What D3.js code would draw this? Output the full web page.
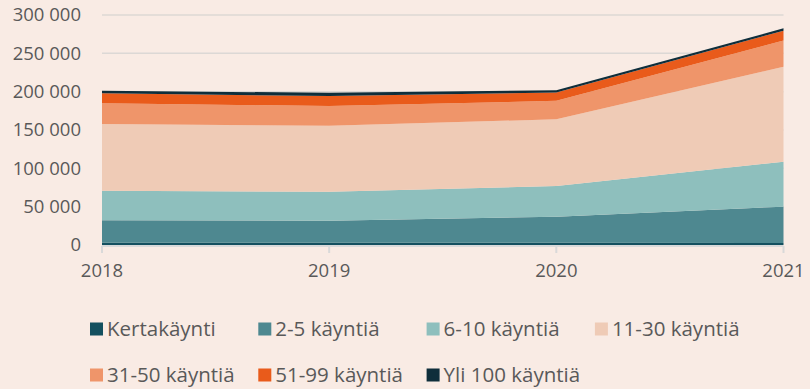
<!DOCTYPE html>
<html>
<head>
<meta charset="utf-8">
<script src="https://cdn.jsdelivr.net/npm/d3@7"></script>
<style>
  html, body { margin: 0; padding: 0; background: #f9ebe4; }
  svg { display: block; }
  text { font-family: "Open Sans", sans-serif; fill: #595959; }
</style>
</head>
<body>
<svg id="chart" width="810" height="389"></svg>
<script>
// Käyntimäärät vuosittain, luokiteltuna käyntien lukumäärän mukaan
const years = [2018, 2019, 2020, 2021];
const seriesNames = ["Kertakäynti", "2-5 käyntiä", "6-10 käyntiä", "11-30 käyntiä",
                     "31-50 käyntiä", "51-99 käyntiä", "Yli 100 käyntiä"];
const kertakaynti = [3000, 3000, 3000, 2500];
const kaynnit2_5 = [29200, 28700, 33900, 47500];
const kaynnit6_10 = [38600, 37800, 40100, 58600];
const kaynnit11_30 = [87000, 86100, 87000, 124000];
const kaynnit31_50 = [27000, 25700, 24000, 34000];
const kaynnit51_99 = [13000, 13000, 11000, 13000];
const yli100 = [3500, 4200, 3000, 3000];
const yTicks = [0, 50000, 100000, 150000, 200000, 250000, 300000];
const colors = ["#14505f", "#4e8890", "#8ebfbd", "#efcbb6", "#ef956a", "#e95b1b", "#0f2e3b"];

const seriesValues = [kertakaynti, kaynnit2_5, kaynnit6_10, kaynnit11_30, kaynnit31_50, kaynnit51_99, yli100];
const table = years.map((yr, i) => {
  const row = { year: yr };
  seriesNames.forEach((name, s) => { row[name] = seriesValues[s][i]; });
  return row;
});

const svg = d3.select("#chart");
const x = d3.scaleLinear().domain([2018, 2021]).range([102, 783.5]);
const y = d3.scaleLinear().domain([0, 300000]).range([245, 15]);

// gridlines
svg.append("g")
  .selectAll("line")
  .data(yTicks.filter(d => d > 0))
  .join("line")
  .attr("x1", x(2018)).attr("x2", x(2021))
  .attr("y1", d => y(d)).attr("y2", d => y(d))
  .attr("stroke", "#dcd8d5").attr("stroke-width", 1.5);

// stacked areas
const stack = d3.stack().keys(seriesNames);
const layers = stack(table);
const area = d3.area()
  .x(d => x(d.data.year))
  .y0(d => y(d[0]))
  .y1(d => y(d[1]));

svg.append("g")
  .selectAll("path")
  .data(layers)
  .join("path")
  .attr("d", area)
  .attr("fill", (d, i) => colors[i]);

// y-axis labels
const fmt = v => v === 0 ? "0" : d3.format(",")(v).replace(/,/g, " ");
svg.append("g")
  .selectAll("text")
  .data(yTicks)
  .join("text")
  .attr("x", 81)
  .attr("y", d => y(d))
  .attr("dy", "0.35em")
  .attr("text-anchor", "end")
  .style("font-size", "18.5px")
  .text(fmt);

// x-axis
const xAxis = svg.append("g");
xAxis.append("line")
  .attr("x1", x(2018)).attr("x2", x(2021))
  .attr("y1", 246).attr("y2", 246)
  .attr("stroke", "#d9d9d9").attr("stroke-width", 2);
xAxis.selectAll("line.tick")
  .data(years)
  .join("line")
  .attr("class", "tick")
  .attr("x1", d => x(d)).attr("x2", d => x(d))
  .attr("y1", 246).attr("y2", 253)
  .attr("stroke", "#d9d9d9").attr("stroke-width", 2);
xAxis.selectAll("text")
  .data(years)
  .join("text")
  .attr("x", d => x(d))
  .attr("y", 271)
  .attr("dy", "0.35em")
  .attr("text-anchor", "middle")
  .style("font-size", "18.5px")
  .text(d => d);

// legend: four columns, two rows
const legend = svg.append("g")
  .selectAll("g")
  .data(seriesNames)
  .join("g")
  .attr("transform", (d, i) => `translate(${90 + (i % 4) * 168.3},${329 + Math.floor(i / 4) * 46})`);
legend.append("rect")
  .attr("x", 0).attr("y", -6.5)
  .attr("width", 13).attr("height", 13)
  .attr("fill", (d, i) => colors[i]);
legend.append("text")
  .attr("x", 17)
  .attr("y", 0)
  .attr("dy", "0.35em")
  .style("font-size", "20.5px")
  .text(d => d);
</script>
</body>
</html>
